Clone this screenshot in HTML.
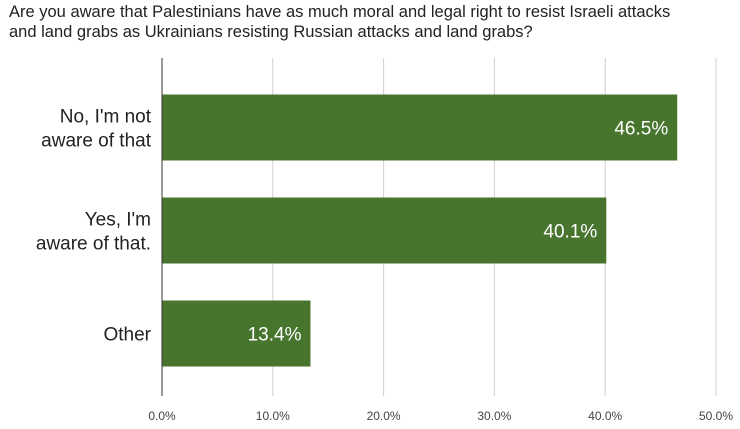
<!DOCTYPE html>
<html><head><meta charset="utf-8">
<style>
body{margin:0;background:#fff;width:740px;height:429px;overflow:hidden;font-family:"Liberation Sans",Arial,sans-serif}
#title{position:absolute;left:9px;top:2px;font-size:16.5px;line-height:20px;color:#222;white-space:nowrap}
</style></head><body>
<div id="title">Are you aware that Palestinians have as much moral and legal right to resist Israeli attacks<br>and land grabs as Ukrainians resisting Russian attacks and land grabs?</div>
<svg id="chart" width="740" height="429" style="position:absolute;left:0;top:0"></svg>
<script>
const categories=["No, I'm not|aware of that","Yes, I'm|aware of that.","Other"];
const values=[46.5,40.1,13.4];
const valueLabels=["46.5%","40.1%","13.4%"];
const ticks=[0,10,20,30,40,50];
const tickLabels=["0.0%","10.0%","20.0%","30.0%","40.0%","50.0%"];
const NS="http://www.w3.org/2000/svg";
const svg=document.getElementById('chart');
const x0=162,x1=716,yTop=58,yBot=396;
const xs=v=>x0+(v/50)*(x1-x0);
const bandTop=76,band=103,barH=66;
const yc=i=>bandTop+band*i+band/2;
function mk(t,a){const e=document.createElementNS(NS,t);for(const k in a)e.setAttribute(k,a[k]);svg.appendChild(e);return e;}
ticks.forEach((t,i)=>{
  if(i>0){const g=mk('line',{x1:xs(t),x2:xs(t),y1:yTop,y2:yBot,stroke:'#d0d0d0','stroke-width':1});
  
  }
  const l=mk('text',{x:xs(t),y:420,'text-anchor':'middle','font-size':12,fill:'#444','font-family':'Liberation Sans, sans-serif'});
  l.textContent=tickLabels[i];
  
  
});
values.forEach((v,i)=>{
  const b=mk('rect',{x:x0,y:yc(i)-barH/2,width:xs(v)-x0,height:barH,fill:'#48752e'});
  
  
  const vl=mk('text',{x:xs(v)-9,y:yc(i)+7,'text-anchor':'end','font-size':19,fill:'#fff','font-family':'Liberation Sans, sans-serif'});
  vl.textContent=valueLabels[i];
  
  
  const lines=categories[i].split('|');
  const cl=mk('text',{x:151,'text-anchor':'end','font-size':19,fill:'#222','font-family':'Liberation Sans, sans-serif'});
  
  
  lines.forEach((ln,j)=>{const ts=document.createElementNS(NS,'tspan');ts.setAttribute('x',151);
    ts.setAttribute('y',yc(i)+7+(j-(lines.length-1)/2)*24);ts.textContent=ln;cl.appendChild(ts);});
});
const ax=mk('line',{x1:x0,x2:x0,y1:yTop,y2:yBot,stroke:'#333','stroke-width':1});


</script>
</body></html>
